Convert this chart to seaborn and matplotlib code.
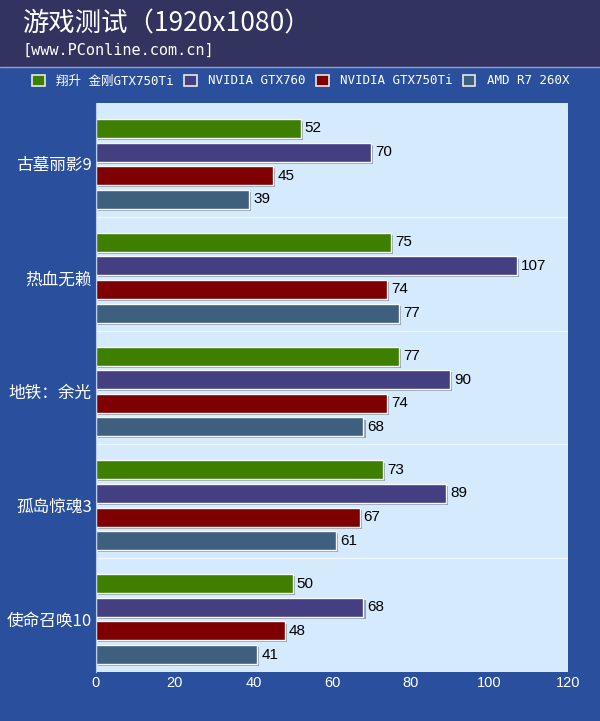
import pandas as pd
import seaborn as sns
import matplotlib.pyplot as plt
from matplotlib.patches import Rectangle
from matplotlib.lines import Line2D
import matplotlib.patheffects as pe

# 数据
games = ['古墓丽影9', '热血无赖', '地铁：余光', '孤岛惊魂3', '使命召唤10']
cards = ['翔升 金刚GTX750Ti', 'NVIDIA GTX760', 'NVIDIA GTX750Ti', 'AMD R7 260X']
fps_xs750ti = [52, 75, 77, 73, 50]
fps_gtx760 = [70, 107, 90, 89, 68]
fps_gtx750ti = [45, 74, 74, 67, 48]
fps_r7260x = [39, 77, 68, 61, 41]
colors = ['#3f7f00', '#433f80', '#7f0000', '#3f5f7f']

rows = []
for card, vals in zip(cards, [fps_xs750ti, fps_gtx760, fps_gtx750ti, fps_r7260x]):
    for g, v in zip(games, vals):
        rows.append({'game': g, 'card': card, 'fps': v})
df = pd.DataFrame(rows)

sns.set_style('white')
plt.rcParams['font.family'] = ['Noto Sans CJK SC', 'DejaVu Sans']

fig = plt.figure(figsize=(6, 7.21), dpi=100, facecolor='#2a4f9c')
# 顶部标题栏
fig.patches.append(Rectangle((0, 1 - 67 / 721), 1, 67 / 721, transform=fig.transFigure,
                             facecolor='#333360', edgecolor='none', zorder=0))
fig.add_artist(Line2D([0, 1], [1 - 67 / 721] * 2, transform=fig.transFigure,
                      color='#8fa3d6', lw=1))

ax = fig.add_axes([96 / 600, 1 - 672 / 721, 472 / 600, 569 / 721])
ax.set_facecolor('#d5eafd')

sns.barplot(data=df, y='game', x='fps', hue='card', orient='h', palette=colors,
            order=games, hue_order=cards, width=0.83, gap=0.2, saturation=1,
            edgecolor='#f4f8ff', linewidth=1, ax=ax, legend=False)

shadow = [pe.SimplePatchShadow(offset=(1.5, -1.5), shadow_rgbFace='#555555', alpha=0.5), pe.Normal()]
for p in ax.patches:
    p.set_path_effects(shadow)
for c in ax.containers:
    ax.bar_label(c, padding=3, fontsize=11, color='black', family='Liberation Sans')

off = 0.035
for y in [0.5, 1.5, 2.5, 3.5]:
    ax.axhline(y - off, color='#eef6ff', lw=1, zorder=0.5)

ax.set_xlim(0, 120)
ax.set_ylim(4.5 - off, -0.5 - off)
ax.set_xticks(range(0, 121, 20))
ax.set_xlabel('')
ax.set_ylabel('')
ax.tick_params(axis='both', colors='white', length=0)
ax.tick_params(axis='y', labelsize=12, pad=3)
ax.tick_params(axis='x', pad=3)
for lab in ax.get_xticklabels():
    lab.set_family('Liberation Sans')
    lab.set_fontsize(10.5)
for s in ['top', 'right', 'bottom']:
    ax.spines[s].set_visible(False)
ax.spines['left'].set_color('#b8cbe8')

fig.text(22 / 600, 1 - 24 / 721, '游戏测试（1920x1080）', color='white', fontsize=19,
         va='center', ha='left')
fig.text(22 / 600, 1 - 50 / 721, '[www.PConline.com.cn]', color='white', fontsize=11,
         va='center', ha='left', family=['DejaVu Sans Mono'])

handles = [Rectangle((0, 0), 1, 1, facecolor=c, edgecolor='#e8e8e8', lw=1.2) for c in colors]
fig.legend(handles, cards, loc='center left', bbox_to_anchor=(21 / 600, 1 - 81 / 721),
           ncol=4, frameon=False, handlelength=1.0, handleheight=1.0, handletextpad=0.9,
           columnspacing=0.85, labelcolor='white',
           prop={'family': ['DejaVu Sans Mono', 'Noto Sans CJK SC'], 'size': 9})

fig.savefig('out.png', dpi=100, facecolor=fig.get_facecolor())
